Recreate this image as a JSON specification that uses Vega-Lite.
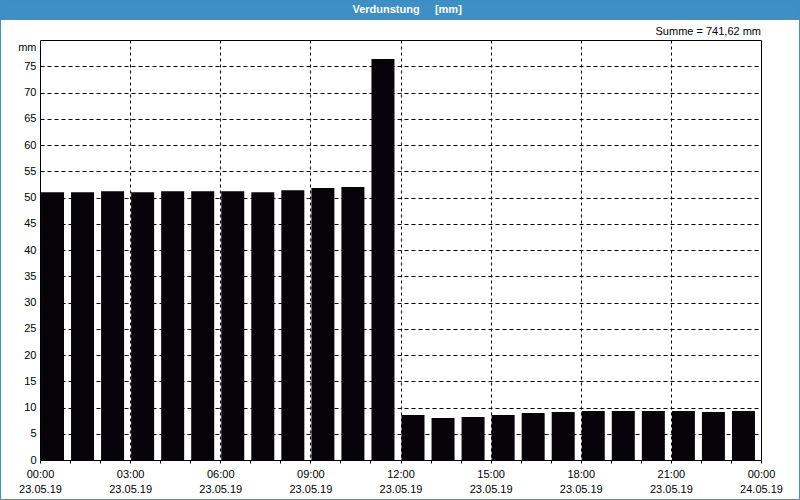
{
  "$schema": "https://vega.github.io/schema/vega-lite/v6.json",
  "width": 721,
  "height": 420,
  "autosize": {"type": "none"},
  "padding": {"left": 40, "top": 40, "right": 39, "bottom": 40},
  "background": "#ffffff",
  "config": {
    "view": {"stroke": "#000000", "strokeWidth": 1},
    "font": "Liberation Sans"
  },
  "resolve": {"axis": {"x": "independent", "y": "independent"}},
  "data": {
    "values": [
      {"hour": 0, "value": 51.0},
      {"hour": 1, "value": 51.0},
      {"hour": 2, "value": 51.2},
      {"hour": 3, "value": 51.0},
      {"hour": 4, "value": 51.2},
      {"hour": 5, "value": 51.2},
      {"hour": 6, "value": 51.2},
      {"hour": 7, "value": 51.0},
      {"hour": 8, "value": 51.4},
      {"hour": 9, "value": 51.8},
      {"hour": 10, "value": 52.0},
      {"hour": 11, "value": 76.4},
      {"hour": 12, "value": 8.57},
      {"hour": 13, "value": 8.0},
      {"hour": 14, "value": 8.19},
      {"hour": 15, "value": 8.57},
      {"hour": 16, "value": 8.95},
      {"hour": 17, "value": 9.14},
      {"hour": 18, "value": 9.33},
      {"hour": 19, "value": 9.33},
      {"hour": 20, "value": 9.33},
      {"hour": 21, "value": 9.33},
      {"hour": 22, "value": 9.14},
      {"hour": 23, "value": 9.33}
    ]
  },
  "layer": [
    {
      "mark": {"type": "bar", "width": 23, "xOffset": 12.5, "color": "#060309"},
      "encoding": {
        "x": {
          "field": "hour",
          "type": "quantitative",
          "scale": {"domain": [0, 24], "nice": false, "zero": false, "padding": 0},
          "axis": {
            "values": [0,1,2,3,4,5,6,7,8,9,10,11,12,13,14,15,16,17,18,19,20,21,22,23,24],
            "title": null,
            "domain": false,
            "ticks": true,
            "tickSize": 3,
            "tickColor": "#000000",
            "labelExpr": "datum.value % 3 == 0 ? [(datum.value % 24 < 10 ? '0' : '') + (datum.value % 24) + ':00', datum.value == 24 ? '24.05.19' : '23.05.19'] : ''",
            "labelFont": "Liberation Sans",
            "labelFontSize": 11,
            "labelColor": "#000000",
            "labelLineHeight": 15,
            "labelBaseline": "top",
            "labelPadding": 5,
            "labelFlush": false,
            "labelOverlap": false,
            "labelBound": false,
            "grid": true,
            "gridColor": "#000000",
            "gridDash": [3, 3],
            "gridWidth": 1,
            "gridOpacity": {"condition": {"test": "datum.value % 3 == 0 && datum.value > 0 && datum.value < 24", "value": 1}, "value": 0}
          }
        },
        "y": {
          "field": "value",
          "type": "quantitative",
          "scale": {"domain": [0, 80], "nice": false, "padding": 0},
          "axis": {
            "values": [0,5,10,15,20,25,30,35,40,45,50,55,60,65,70,75,80],
            "labelExpr": "datum.value == 80 ? '' : datum.label",
            "domain": false,
            "ticks": false,
            "labelPadding": 4,
            "labelFont": "Liberation Sans",
            "labelFontSize": 11,
            "labelColor": "#000000",
            "grid": true,
            "gridColor": "#000000",
            "gridDash": [4, 3],
            "gridWidth": 1,
            "gridOpacity": {"condition": {"test": "datum.value > 0 && datum.value < 80", "value": 1}, "value": 0},
            "title": "mm",
            "titleAngle": 0,
            "titleX": -4,
            "titleY": 7,
            "titleAlign": "right",
            "titleBaseline": "middle",
            "titleFont": "Liberation Sans",
            "titleFontSize": 11,
            "titleFontWeight": "normal",
            "titleColor": "#000000"
          }
        }
      }
    },
    {
      "data": {"values": [{"label": "Summe = 741,62 mm"}]},
      "mark": {"type": "text", "align": "right", "baseline": "middle", "dy": -8, "font": "Liberation Sans", "fontSize": 11, "color": "#000000"},
      "encoding": {
        "x": {"datum": 24, "type": "quantitative", "axis": null},
        "y": {"datum": 80, "type": "quantitative", "axis": null},
        "text": {"field": "label"}
      }
    },
    {
      "data": {"values": [{"x0": -1.3315, "x1": 25.298, "y0": 87.62, "y1": 83.81}]},
      "mark": {"type": "rect", "color": "#3d8fc6", "clip": false},
      "encoding": {
        "x": {"field": "x0", "type": "quantitative", "axis": null},
        "x2": {"field": "x1"},
        "y": {"field": "y0", "type": "quantitative", "axis": null},
        "y2": {"field": "y1"}
      }
    },
    {
      "data": {"values": [{"x0": -1.315, "x1": 25.281, "y0": 87.52, "y1": -7.524}]},
      "mark": {"type": "rect", "filled": false, "stroke": "#3d8fc6", "strokeWidth": 1, "clip": false},
      "encoding": {
        "x": {"field": "x0", "type": "quantitative", "axis": null},
        "x2": {"field": "x1"},
        "y": {"field": "y0", "type": "quantitative", "axis": null},
        "y2": {"field": "y1"}
      }
    },
    {
      "data": {"values": [{"label": "Verdunstung\u00a0\u00a0\u00a0\u00a0\u00a0[mm]", "x": 12.22, "y": 85.71}]},
      "mark": {"type": "text", "align": "center", "baseline": "middle", "font": "Liberation Sans", "fontSize": 11, "fontWeight": "bold", "color": "#ffffff"},
      "encoding": {
        "x": {"field": "x", "type": "quantitative", "axis": null},
        "y": {"field": "y", "type": "quantitative", "axis": null},
        "text": {"field": "label"}
      }
    }
  ]
}
